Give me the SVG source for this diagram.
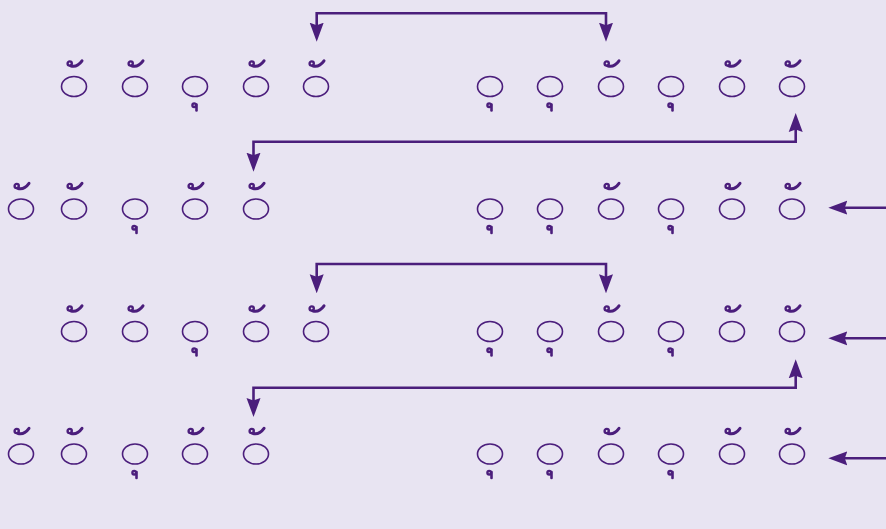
<svg xmlns="http://www.w3.org/2000/svg" xmlns:xlink="http://www.w3.org/1999/xlink" width="886" height="529" viewBox="0 0 886 529">
<style>
.bg{fill:#e8e4f2}
.n ellipse{fill:none;stroke:#4b1e7c;stroke-width:1.6}
.mk{fill:none;stroke:#4b1e7c;stroke-linecap:round}
.c{fill:none;stroke:#4b1e7c;stroke-width:2.6}
</style>
<defs>
<marker id="ah" markerUnits="userSpaceOnUse" markerWidth="19" markerHeight="15" viewBox="0 0 19 15" refX="13" refY="7.5" orient="auto-start-reverse">
<path d="M0,0.5 L19,7.5 L0,14.5 L2.5,7.5 z" fill="#4b1e7c"/>
</marker>
<g id="up"><circle class="mk" cx="-4.3" cy="-0.5" r="2.1" stroke-width="2.4"/><path class="mk" d="M-3.4,1.8 Q3,3.8 8,-3.2" stroke-width="3"/></g>
<g id="dn"><circle class="mk" cx="-0.8" cy="-1.3" r="1.8" stroke-width="2.4"/><path class="mk" d="M1.5,-2 V4" stroke-width="2.6" stroke-linecap="butt"/></g>
</defs>
<rect class="bg" x="0" y="0" width="886" height="529"/>

<g id="connectors">
<path class="c" d="M316.7,35.7 V13.3 H606 V35.7" marker-start="url(#ah)" marker-end="url(#ah)"/>
<path class="c" d="M795.7,119 V141.7 H253.5 V165.7" marker-start="url(#ah)" marker-end="url(#ah)"/>
<path class="c" d="M316.7,287.3 V264 H606 V287.3" marker-start="url(#ah)" marker-end="url(#ah)"/>
<path class="c" d="M795.7,365.3 V387.7 H253.5 V411" marker-start="url(#ah)" marker-end="url(#ah)"/>
<path class="c" d="M886,207.7 H834.3" marker-end="url(#ah)"/>
<path class="c" d="M886,338.3 H834.3" marker-end="url(#ah)"/>
<path class="c" d="M886,458.3 H834.3" marker-end="url(#ah)"/>
</g>

<!-- Row 1 -->
<g id="r1a" class="n"><ellipse cx="74" cy="86.5" rx="12.5" ry="10"/><use href="#up" x="74" y="64"/></g>
<g id="r1b" class="n"><ellipse cx="135" cy="86.5" rx="12.5" ry="10"/><use href="#up" x="135" y="64"/></g>
<g id="r1c" class="n"><ellipse cx="195" cy="86.5" rx="12.5" ry="10"/><use href="#dn" x="195" y="106.5"/></g>
<g id="r1d" class="n"><ellipse cx="256" cy="86.5" rx="12.5" ry="10"/><use href="#up" x="256" y="64"/></g>
<g id="r1e" class="n"><ellipse cx="316" cy="86.5" rx="12.5" ry="10"/><use href="#up" x="316" y="64"/></g>
<g id="r1f" class="n"><ellipse cx="490" cy="86.5" rx="12.5" ry="10"/><use href="#dn" x="490" y="106.5"/></g>
<g id="r1g" class="n"><ellipse cx="550" cy="86.5" rx="12.5" ry="10"/><use href="#dn" x="550" y="106.5"/></g>
<g id="r1h" class="n"><ellipse cx="611" cy="86.5" rx="12.5" ry="10"/><use href="#up" x="611" y="64"/></g>
<g id="r1i" class="n"><ellipse cx="671" cy="86.5" rx="12.5" ry="10"/><use href="#dn" x="671" y="106.5"/></g>
<g id="r1j" class="n"><ellipse cx="732" cy="86.5" rx="12.5" ry="10"/><use href="#up" x="732" y="64"/></g>
<g id="r1k" class="n"><ellipse cx="792" cy="86.5" rx="12.5" ry="10"/><use href="#up" x="792" y="64"/></g>

<!-- Row 2 -->
<g id="r2a" class="n"><ellipse cx="21" cy="209" rx="12.5" ry="10"/><use href="#up" x="21" y="186.5"/></g>
<g id="r2b" class="n"><ellipse cx="74" cy="209" rx="12.5" ry="10"/><use href="#up" x="74" y="186.5"/></g>
<g id="r2c" class="n"><ellipse cx="135" cy="209" rx="12.5" ry="10"/><use href="#dn" x="135" y="229"/></g>
<g id="r2d" class="n"><ellipse cx="195" cy="209" rx="12.5" ry="10"/><use href="#up" x="195" y="186.5"/></g>
<g id="r2e" class="n"><ellipse cx="256" cy="209" rx="12.5" ry="10"/><use href="#up" x="256" y="186.5"/></g>
<g id="r2f" class="n"><ellipse cx="490" cy="209" rx="12.5" ry="10"/><use href="#dn" x="490" y="229"/></g>
<g id="r2g" class="n"><ellipse cx="550" cy="209" rx="12.5" ry="10"/><use href="#dn" x="550" y="229"/></g>
<g id="r2h" class="n"><ellipse cx="611" cy="209" rx="12.5" ry="10"/><use href="#up" x="611" y="186.5"/></g>
<g id="r2i" class="n"><ellipse cx="671" cy="209" rx="12.5" ry="10"/><use href="#dn" x="671" y="229"/></g>
<g id="r2j" class="n"><ellipse cx="732" cy="209" rx="12.5" ry="10"/><use href="#up" x="732" y="186.5"/></g>
<g id="r2k" class="n"><ellipse cx="792" cy="209" rx="12.5" ry="10"/><use href="#up" x="792" y="186.5"/></g>

<!-- Row 3 -->
<g id="r3a" class="n"><ellipse cx="74" cy="331.5" rx="12.5" ry="10"/><use href="#up" x="74" y="309"/></g>
<g id="r3b" class="n"><ellipse cx="135" cy="331.5" rx="12.5" ry="10"/><use href="#up" x="135" y="309"/></g>
<g id="r3c" class="n"><ellipse cx="195" cy="331.5" rx="12.5" ry="10"/><use href="#dn" x="195" y="351.5"/></g>
<g id="r3d" class="n"><ellipse cx="256" cy="331.5" rx="12.5" ry="10"/><use href="#up" x="256" y="309"/></g>
<g id="r3e" class="n"><ellipse cx="316" cy="331.5" rx="12.5" ry="10"/><use href="#up" x="316" y="309"/></g>
<g id="r3f" class="n"><ellipse cx="490" cy="331.5" rx="12.5" ry="10"/><use href="#dn" x="490" y="351.5"/></g>
<g id="r3g" class="n"><ellipse cx="550" cy="331.5" rx="12.5" ry="10"/><use href="#dn" x="550" y="351.5"/></g>
<g id="r3h" class="n"><ellipse cx="611" cy="331.5" rx="12.5" ry="10"/><use href="#up" x="611" y="309"/></g>
<g id="r3i" class="n"><ellipse cx="671" cy="331.5" rx="12.5" ry="10"/><use href="#dn" x="671" y="351.5"/></g>
<g id="r3j" class="n"><ellipse cx="732" cy="331.5" rx="12.5" ry="10"/><use href="#up" x="732" y="309"/></g>
<g id="r3k" class="n"><ellipse cx="792" cy="331.5" rx="12.5" ry="10"/><use href="#up" x="792" y="309"/></g>

<!-- Row 4 -->
<g id="r4a" class="n"><ellipse cx="21" cy="454" rx="12.5" ry="10"/><use href="#up" x="21" y="431.5"/></g>
<g id="r4b" class="n"><ellipse cx="74" cy="454" rx="12.5" ry="10"/><use href="#up" x="74" y="431.5"/></g>
<g id="r4c" class="n"><ellipse cx="135" cy="454" rx="12.5" ry="10"/><use href="#dn" x="135" y="474"/></g>
<g id="r4d" class="n"><ellipse cx="195" cy="454" rx="12.5" ry="10"/><use href="#up" x="195" y="431.5"/></g>
<g id="r4e" class="n"><ellipse cx="256" cy="454" rx="12.5" ry="10"/><use href="#up" x="256" y="431.5"/></g>
<g id="r4f" class="n"><ellipse cx="490" cy="454" rx="12.5" ry="10"/><use href="#dn" x="490" y="474"/></g>
<g id="r4g" class="n"><ellipse cx="550" cy="454" rx="12.5" ry="10"/><use href="#dn" x="550" y="474"/></g>
<g id="r4h" class="n"><ellipse cx="611" cy="454" rx="12.5" ry="10"/><use href="#up" x="611" y="431.5"/></g>
<g id="r4i" class="n"><ellipse cx="671" cy="454" rx="12.5" ry="10"/><use href="#dn" x="671" y="474"/></g>
<g id="r4j" class="n"><ellipse cx="732" cy="454" rx="12.5" ry="10"/><use href="#up" x="732" y="431.5"/></g>
<g id="r4k" class="n"><ellipse cx="792" cy="454" rx="12.5" ry="10"/><use href="#up" x="792" y="431.5"/></g>
</svg>
